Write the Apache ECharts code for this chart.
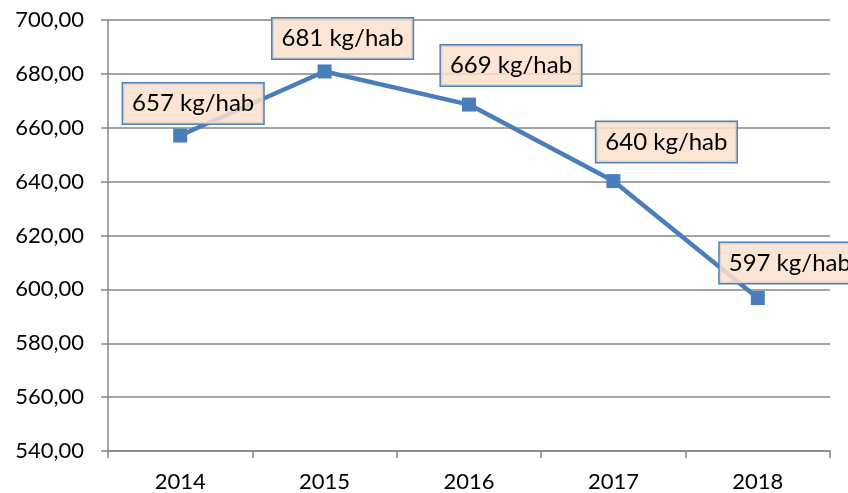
<!DOCTYPE html>
<html>
<head>
<meta charset="utf-8">
<script src="https://cdn.jsdelivr.net/npm/echarts@6/dist/echarts.min.js"></script>
<style>html,body{margin:0;padding:0;background:#fff}#c{width:848px;height:493px}</style>
</head>
<body>
<div id="c"></div>
<script>
const years = ['2014', '2015', '2016', '2017', '2018'];
const values = [657.1, 680.9, 668.6, 640.2, 596.8];
const unit = ' kg/hab';
const yTicks = { min: 540, max: 700, step: 20 };

const labelOffsets = [[13, -32], [18, -33], [42, -39], [53, -39], [32, -35]];
const font = 'Lato, "Open Sans", sans-serif';

const chart = echarts.init(document.getElementById('c'), null, { renderer: 'canvas' });
chart.setOption({
  animation: false,
  backgroundColor: '#fff',
  grid: { left: 108, right: 18, top: 20, bottom: 41, containLabel: false },
  xAxis: {
    type: 'category',
    data: years,
    boundaryGap: true,
    axisLine: { lineStyle: { color: '#868686', width: 1.5 } },
    axisTick: { show: true, length: 7, lineStyle: { color: '#868686', width: 1.5 } },
    axisLabel: { color: '#000', fontFamily: font, fontSize: 22, margin: 20 }
  },
  yAxis: {
    type: 'value',
    min: yTicks.min, max: yTicks.max, interval: yTicks.step,
    axisLine: { show: true, lineStyle: { color: '#868686', width: 1.5 } },
    axisTick: { show: true, length: 7, lineStyle: { color: '#868686', width: 1.5 } },
    splitLine: { lineStyle: { color: '#868686', width: 1.5 } },
    axisLabel: {
      color: '#000', fontFamily: font, fontSize: 22, margin: 24,
      formatter: v => v.toFixed(2).replace('.', ',')
    }
  },
  series: [{
    type: 'line',
    data: values.map((v, i) => ({
      value: v,
      label: { offset: labelOffsets[i] }
    })),
    symbol: 'rect',
    symbolSize: 14,
    lineStyle: { color: '#4A7EBB', width: 4.5 },
    itemStyle: { color: '#4A7EBB' },
    label: {
      show: true,
      position: 'inside',
      align: 'center',
      verticalAlign: 'middle',
      formatter: p => Math.round(p.value) + unit,
      color: '#000',
      fontFamily: font,
      fontSize: 24,
      lineHeight: 26,
      backgroundColor: 'rgba(252,224,204,0.85)',
      borderColor: '#4F81BD',
      borderWidth: 1.5,
      padding: [7, 9, 7, 9]
    }
  }]
});
</script>
</body>
</html>
